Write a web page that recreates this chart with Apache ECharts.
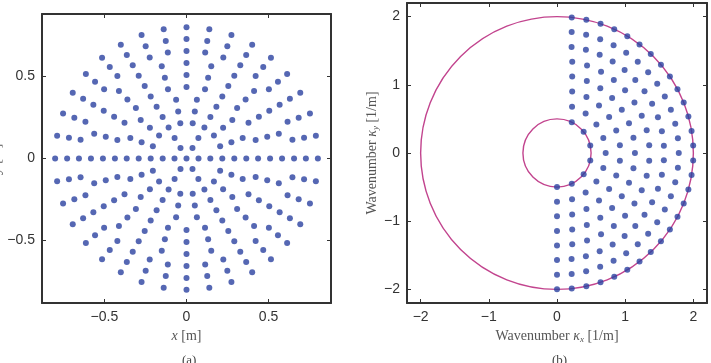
<!DOCTYPE html>
<html>
<head>
<meta charset="utf-8">
<script src="https://cdn.jsdelivr.net/npm/echarts@6/dist/echarts.min.js"></script>
<style>
html, body { margin: 0; padding: 0; background: #fff; }
#chart { width: 711px; height: 363px; }
</style>
</head>
<body>
<div id="chart"></div>
<script>
// (a) sensor positions: ring radius [m] and number of points on that ring
const ringRadiusA = [0, 0.073, 0.145, 0.218, 0.291, 0.364, 0.436, 0.509, 0.582, 0.655, 0.727, 0.8];
const ringCountA  = [1, 6, 6, 18, 18, 18, 24, 24, 24, 36, 36, 36];

// (b) wavenumber samples: ring radius [1/m] and points on the full ring
// (only the kx >= 0 half is drawn, starting at -90 deg)
const ringRadiusB = [0.5, 0.714, 0.929, 1.143, 1.357, 1.571, 1.786, 2.0];
const ringCountB  = [14, 20, 26, 32, 38, 46, 52, 58];

// circles in (b): [cx, cy, r]
const circlesB = [[0, 0, 0.5], [0, 0, 2]];

const ticksA = [-0.5, 0, 0.5];
const ticksB = [-2, -1, 0, 1, 2];
const limA = 0.88;
const limB = 2.2;

const dotColor = '#2b41a0';
const ringColor = '#c2448e';
const frameColor = '#333';

// polar -> cartesian
const pointsA = [];
ringRadiusA.forEach((r, i) => {
  const n = ringCountA[i];
  for (let j = 0; j < n; j++) {
    const a = 2 * Math.PI * j / n;
    pointsA.push([r * Math.cos(a), r * Math.sin(a)]);
  }
});
const pointsB = [];
ringRadiusB.forEach((r, i) => {
  const n = ringCountB[i];
  for (let j = 0; j < n / 2; j++) {
    const a = -Math.PI / 2 + 2 * Math.PI * j / n;
    pointsB.push([r * Math.cos(a), r * Math.sin(a)]);
  }
});

const fmt = v => (v < 0 ? '\u2212' + Math.abs(v) : String(v));

const serif = 'Liberation Serif';
const nameRich = {
  t: {fontFamily: serif, fontSize: 14, color: '#555', lineHeight: 16},
  i: {fontFamily: serif, fontSize: 14, color: '#555', fontStyle: 'italic', lineHeight: 16},
  s: {fontFamily: serif, fontSize: 9, color: '#555', fontStyle: 'italic', lineHeight: 9, verticalAlign: 'bottom'}
};

function axisPair(grid, ticks, lim, pos, mirror, name, gap) {
  const main = {
    gridIndex: grid, type: 'value', position: pos, min: -lim, max: lim,
    axisLine: {show: true, onZero: false, lineStyle: {color: frameColor, width: 2}},
    axisTick: {show: true, inside: true, length: 4, customValues: ticks, lineStyle: {color: frameColor}},
    axisLabel: {customValues: ticks, formatter: fmt, color: '#333', fontSize: 14,
                fontFamily: 'Liberation Sans', margin: 7},
    splitLine: {show: false},
    name: name, nameLocation: 'middle', nameGap: gap,
    nameTextStyle: {rich: nameRich}
  };
  const other = {
    gridIndex: grid, type: 'value', position: mirror, min: -lim, max: lim,
    axisLine: {show: true, onZero: false, lineStyle: {color: frameColor, width: 2}},
    axisTick: {show: true, inside: true, length: 4, customValues: ticks, lineStyle: {color: frameColor}},
    axisLabel: {show: false, customValues: ticks},
    splitLine: {show: false}
  };
  return [main, other];
}

const chart = echarts.init(document.getElementById('chart'));
chart.setOption({
  animation: false,
  title: [
    {text: '(a)', left: 177, top: 349, textStyle: {fontFamily: serif, fontSize: 13, fontWeight: 'normal', color: '#444'}},
    {text: '(b)', left: 547, top: 349, textStyle: {fontFamily: serif, fontSize: 13, fontWeight: 'normal', color: '#444'}}
  ],
  grid: [
    {left: 42, top: 14, width: 289, height: 289, outerBoundsMode: 'none'},
    {left: 407, top: 3, width: 300, height: 300, outerBoundsMode: 'none'}
  ],
  xAxis: [
    ...axisPair(0, ticksA, limA, 'bottom', 'top', '{i|x}{t| [m]}', 22),
    ...axisPair(1, ticksB, limB, 'bottom', 'top', '{t|Wavenumber }{i|κ}{s|x}{t| [1/m]}', 22)
  ],
  yAxis: [
    ...axisPair(0, ticksA, limA, 'left', 'right', '{i|y}{t| [m]}', 34),
    ...axisPair(1, ticksB, limB, 'left', 'right', '{t|Wavenumber }{i|κ}{s|y}{t| [1/m]}', 24)
  ],
  series: [
    {
      type: 'scatter', xAxisIndex: 0, yAxisIndex: 0, data: pointsA,
      symbolSize: 6, itemStyle: {color: dotColor}, silent: true
    },
    {
      type: 'custom', xAxisIndex: 2, yAxisIndex: 2, data: circlesB,
      encode: {x: 0, y: 1}, silent: true, z: 1,
      renderItem: (params, api) => {
        const c = api.coord([api.value(0), api.value(1)]);
        const r = api.size([api.value(2), 0])[0];
        return {
          type: 'circle', shape: {cx: c[0], cy: c[1], r: r},
          style: {fill: 'none', stroke: ringColor, lineWidth: 1.4}
        };
      }
    },
    {
      type: 'scatter', xAxisIndex: 2, yAxisIndex: 2, data: pointsB, z: 3,
      symbolSize: 6, itemStyle: {color: dotColor}, silent: true
    }
  ]
});
</script>
</body>
</html>
